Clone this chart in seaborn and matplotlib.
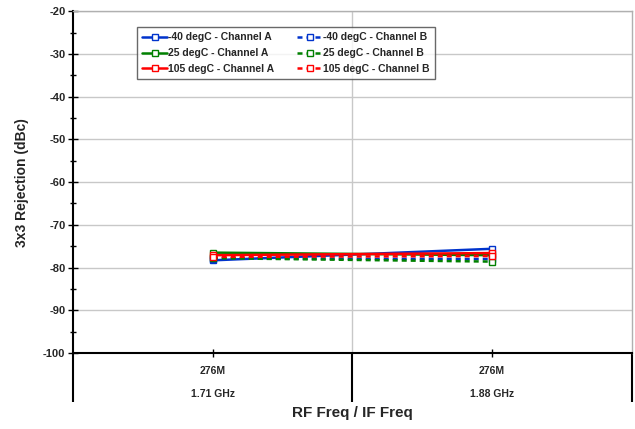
import matplotlib
matplotlib.use("Agg")
import matplotlib.pyplot as plt
import seaborn as sns
import pandas as pd

# data
rf_freqs = ["1.71 GHz", "1.88 GHz"]
if_freqs = ["276M", "276M"]
series_names = [
    "-40 degC - Channel A", "25 degC - Channel A", "105 degC - Channel A",
    "-40 degC - Channel B", "25 degC - Channel B", "105 degC - Channel B",
]
m40_a = [-78.3, -75.6]
p25_a = [-76.5, -77.1]
p105_a = [-77.1, -76.6]
m40_b = [-77.9, -78.0]
p25_b = [-77.8, -78.6]
p105_b = [-77.5, -77.3]

values = [m40_a, p25_a, p105_a, m40_b, p25_b, p105_b]
colors = ["#0033cc", "#008000", "#ff0000", "#0033cc", "#008000", "#ff0000"]
dashes = [False, False, False, True, True, True]

rows = []
for name, vals in zip(series_names, values):
    for f, v in zip(rf_freqs, vals):
        rows.append({"freq": f, "rejection": v, "series": name})
df = pd.DataFrame(rows)

sns.set_style("white")
plt.rcParams["font.family"] = ["Liberation Sans", "DejaVu Sans"]

fig = plt.figure(figsize=(6.35, 4.29), dpi=100)
ax = fig.add_axes([0.115, 0.177, 0.88, 0.797])

for name, col, dash in zip(series_names, colors, dashes):
    sub = df[df["series"] == name]
    sns.lineplot(data=sub, x="freq", y="rejection", ax=ax, color=col,
                 linewidth=1.8, linestyle=(0, (2, 1.6)) if dash else "-",
                 marker="s", markersize=5, markerfacecolor="white",
                 markeredgecolor=col, markeredgewidth=1.0, label=name,
                 sort=False, legend=False)

ax.set_xlim(-0.5, 1.5)
ax.set_ylim(-100, -20)
ax.set_yticks(range(-100, -19, 10))
ax.set_yticks(range(-95, -20, 10), minor=True)
ax.set_yticklabels([str(v) for v in range(-100, -19, 10)],
                   fontsize=8, fontweight="bold")
ax.grid(axis="y", which="major", color="#c8c8c8", linewidth=1)
ax.axvline(0.5, color="#c8c8c8", linewidth=1, zorder=0)

ax.set_xticks([0, 1])
ax.set_xticklabels([f"{i}\n\n{r}" for i, r in zip(if_freqs, rf_freqs)],
                   fontsize=7.5, fontweight="bold", linespacing=1.2)
ax.set_xticks([-0.5, 0.5, 1.5], minor=True)
ax.tick_params(which="both", bottom=True, left=True, top=False, right=False)
ax.tick_params(axis="x", which="major", direction="inout", length=6,
               width=1, pad=6, color="black")
ax.tick_params(axis="x", which="minor", direction="out", length=35,
               width=1.5, color="black")
ax.tick_params(axis="y", which="major", direction="inout", length=7,
               width=1, pad=2, color="black")
ax.tick_params(axis="y", which="minor", direction="inout", length=5,
               width=1, color="black")

for s in ["top", "right"]:
    ax.spines[s].set_color("#b0b0b0")
    ax.spines[s].set_linewidth(1)
for s in ["left", "bottom"]:
    ax.spines[s].set_color("black")
    ax.spines[s].set_linewidth(1.5)

ax.set_xlabel("RF Freq / IF Freq", fontsize=11, fontweight="bold", labelpad=0)
ax.set_ylabel("3x3 Rejection (dBc)", fontsize=10, fontweight="bold", labelpad=10)

# series lines in drawing order (axvline was added after them)
series_lines = [ln for ln in ax.lines if ln.get_label() in series_names]
leg = ax.legend(series_lines, series_names, ncol=2, loc="upper left",
                bbox_to_anchor=(0.1145, 0.953),
                prop={"weight": "bold", "size": 7.5}, frameon=True,
                fancybox=False, edgecolor="#444444", handlelength=2.4,
                handletextpad=0.1, columnspacing=2.2, borderpad=0.5,
                labelspacing=0.55, borderaxespad=0)
leg.get_frame().set_linewidth(1)

fig.savefig("out.png", dpi=100)
